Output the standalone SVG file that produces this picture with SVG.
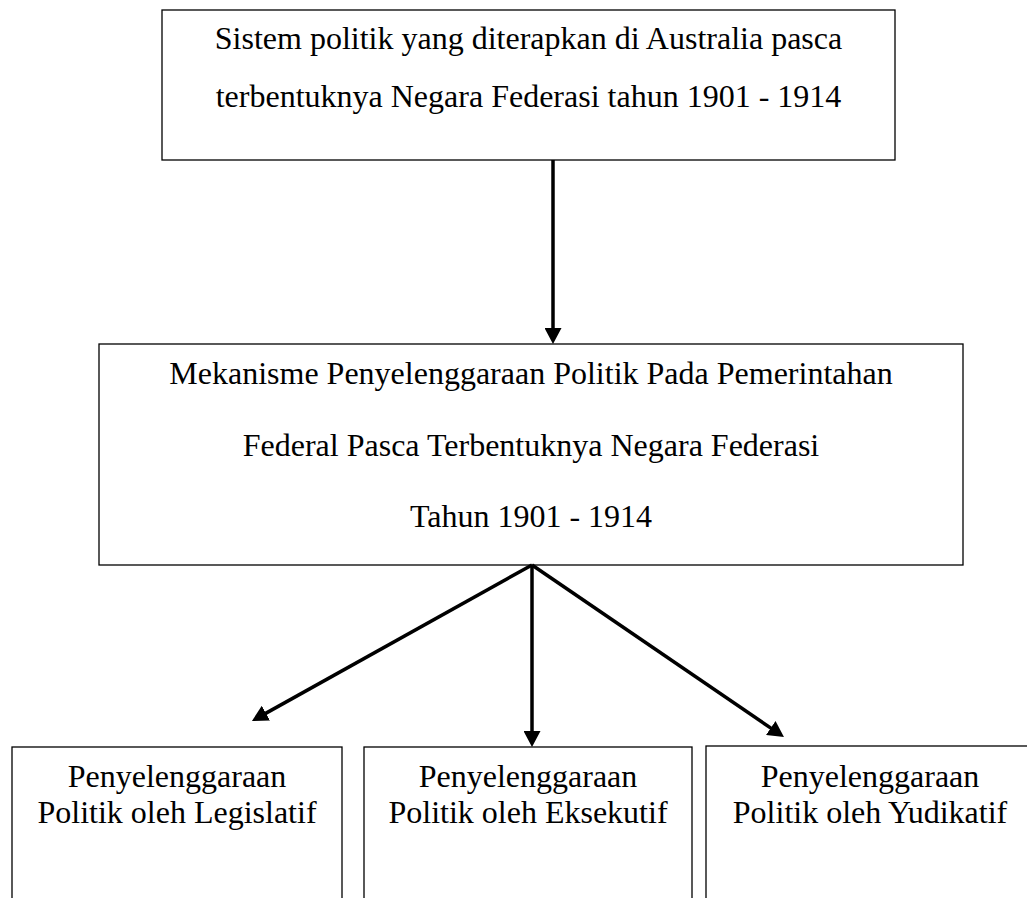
<svg xmlns="http://www.w3.org/2000/svg" width="1027" height="898" viewBox="0 0 1027 898">
<style>
.box{fill:#fff;stroke:#000;stroke-width:1.3}
.t{font-family:"Liberation Serif","Times New Roman",serif;font-size:32px;fill:#000;text-anchor:middle}
.c{fill:none;stroke:#000;stroke-width:3.5}
</style>
<defs>
<marker id="ah" markerUnits="userSpaceOnUse" viewBox="0 0 16 17" refX="6" refY="8.5" markerWidth="16" markerHeight="17" orient="auto">
<path d="M0,0 L16,8.5 L0,17 z" fill="#000"/>
</marker>
</defs>
<rect width="1027" height="898" fill="#fff"/>
<g id="n-top">
<rect class="box" x="162" y="10" width="733" height="150"/>
<text class="t" x="528.5" y="49">Sistem politik yang diterapkan di Australia pasca</text>
<text class="t" x="528.5" y="107">terbentuknya Negara Federasi tahun 1901 - 1914</text>
</g>
<g id="n-mid">
<rect class="box" x="99" y="344" width="864" height="221"/>
<text class="t" x="531" y="384">Mekanisme Penyelenggaraan Politik Pada Pemerintahan</text>
<text class="t" x="531" y="456">Federal Pasca Terbentuknya Negara Federasi</text>
<text class="t" x="531" y="527">Tahun 1901 - 1914</text>
</g>
<g id="n-leg">
<rect class="box" x="12" y="747" width="330" height="170"/>
<text class="t" x="177" y="787">Penyelenggaraan</text>
<text class="t" x="177" y="823">Politik oleh Legislatif</text>
</g>
<g id="n-eks">
<rect class="box" x="364" y="747" width="328" height="170"/>
<text class="t" x="528" y="787">Penyelenggaraan</text>
<text class="t" x="528" y="823">Politik oleh Eksekutif</text>
</g>
<g id="n-yud">
<rect class="box" x="706" y="746" width="330" height="170"/>
<text class="t" x="870" y="787">Penyelenggaraan</text>
<text class="t" x="870" y="823">Politik oleh Yudikatif</text>
</g>
<g id="connectors">
<path class="c" d="M553,160 L553,334" marker-end="url(#ah)"/>
<path class="c" d="M532,565 L260.7,716.1" marker-end="url(#ah)"/>
<path class="c" d="M532,565 L532,737" marker-end="url(#ah)"/>
<path class="c" d="M532,565 L775.7,731.4" marker-end="url(#ah)"/>
</g>
</svg>
